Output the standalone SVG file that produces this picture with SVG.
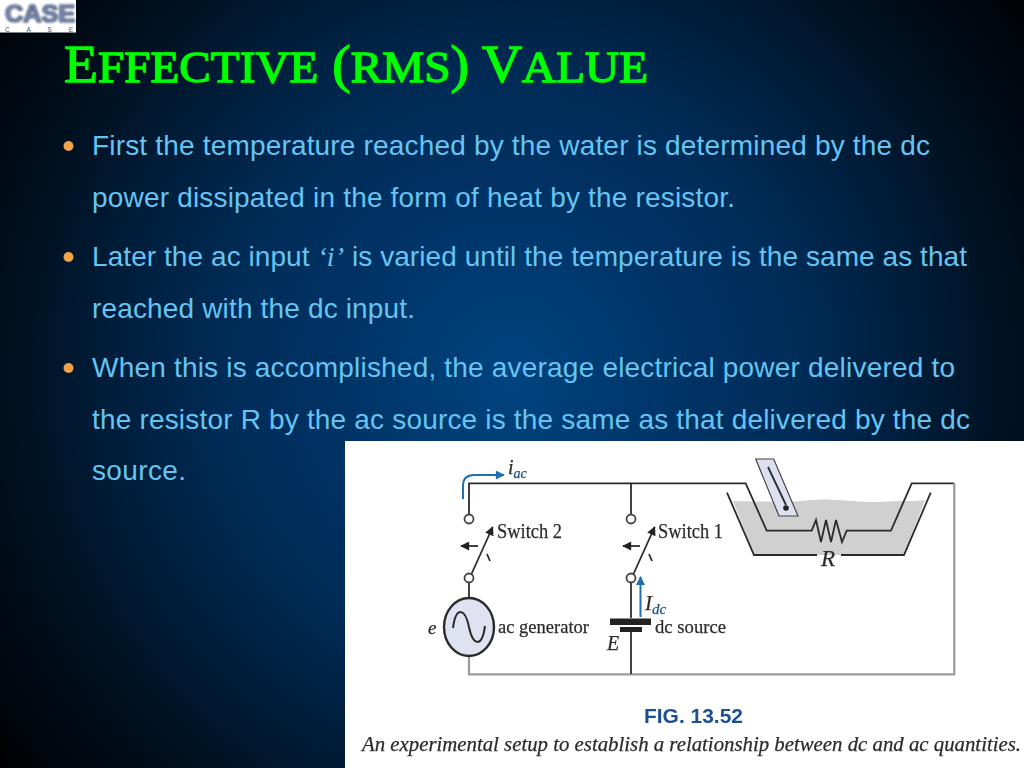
<svg xmlns="http://www.w3.org/2000/svg" width="1024" height="768" viewBox="0 0 1024 768">
<style>
.body{font-family:"Liberation Sans",Arial,sans-serif;font-size:28px;fill:#66c4f2}
.ser{font-family:"Liberation Serif","Times New Roman",serif;fill:#2c2c2c;stroke:#2c2c2c;stroke-width:0.25}
.it{font-style:italic}
.w{fill:none;stroke:#2c2c2c;stroke-width:1.800}
.g{fill:none;stroke:#9a9a9a;stroke-width:2.200}
.c{fill:#fff;stroke:#444;stroke-width:1.800}
.b{fill:#f2a348}
.sc{font-size:45px;text-transform:uppercase}
</style>
<defs>
<radialGradient id="bg" gradientUnits="userSpaceOnUse" cx="512" cy="375" r="640">
<stop offset="0" stop-color="#004480"/>
<stop offset="0.3" stop-color="#003263"/>
<stop offset="0.45" stop-color="#002c58"/>
<stop offset="0.67" stop-color="#001a33"/>
<stop offset="0.84" stop-color="#000c18"/>
<stop offset="0.97" stop-color="#000408"/>
<stop offset="1" stop-color="#000"/>
</radialGradient>
<filter id="soft" x="-5%" y="-5%" width="110%" height="110%"><feGaussianBlur stdDeviation="0.45"/></filter>
<filter id="soft2" x="-5%" y="-5%" width="110%" height="110%"><feGaussianBlur stdDeviation="0.8"/></filter>
<marker id="ah" viewBox="0 0 10 10" refX="9" refY="5" markerWidth="12" markerHeight="9" markerUnits="userSpaceOnUse" orient="auto"><path d="M0 0L10 5L0 10z" fill="#222"/></marker>
<marker id="bh" viewBox="0 0 10 10" refX="9" refY="5" markerWidth="12" markerHeight="9" markerUnits="userSpaceOnUse" orient="auto"><path d="M0 0L10 5L0 10z" fill="#1c6fb4"/></marker>
</defs>
<rect width="1024" height="768" fill="url(#bg)"/>
<g id="logo">
<rect width="76" height="32.500" fill="#fff"/>
<g filter="url(#soft2)">
<text x="5" y="22" font-family="'Liberation Sans',sans-serif" font-weight="bold" font-size="24" textLength="70" lengthAdjust="spacingAndGlyphs" fill="#8296c4" stroke="#2e3a56" stroke-width="1.200">CASE</text>
</g>
<text x="5" y="31.500" font-family="'Liberation Sans',sans-serif" font-size="6.500" textLength="68" fill="#555">CASE</text>
</g>
<text id="title" x="64" y="82" font-family="'Liberation Serif',serif" font-size="53" textLength="584" lengthAdjust="spacingAndGlyphs" fill="#00ff00" stroke="#00ff00" stroke-width="1.300">E<tspan class="sc">ffective</tspan> (<tspan class="sc">rms</tspan>) V<tspan class="sc">alue</tspan></text>
<g id="bullets">
<circle class="b" cx="68.500" cy="146" r="5"/>
<circle class="b" cx="68.500" cy="257" r="5"/>
<circle class="b" cx="68.500" cy="368" r="5"/>
</g>
<g id="bodytext">
<text class="body" x="92" y="155" textLength="838">First the temperature reached by the water is determined by the dc</text>
<text class="body" x="92" y="207" textLength="643">power dissipated in the form of heat by the resistor.</text>
<text class="body" x="92" y="266" textLength="875">Later the ac input <tspan font-family="'Liberation Serif',serif" font-style="italic">‘i’</tspan> is varied until the temperature is the same as that</text>
<text class="body" x="92" y="318" textLength="323">reached with the dc input.</text>
<text class="body" x="92" y="377" textLength="863">When this is accomplished, the average electrical power delivered to</text>
<text class="body" x="92" y="429" textLength="878">the resistor R by the ac source is the same as that delivered by the dc</text>
<text class="body" x="92" y="480" textLength="94">source.</text>
</g>
<rect id="figure-bg" x="345" y="441" width="679" height="327" fill="#fff"/>
<g id="figure" filter="url(#soft)">
<g id="tank">
<path d="M733 501C780 502 800 502 810 500C830 498 850 502 880 502C900 500 912 502 925 500L904 555H754Z" fill="#d0d0d0"/>
<path d="M727 492.700L754 555H817M841 555H904L930.700 492.700" class="w" stroke-width="2"/>
</g>
<g id="connectors">
<path class="w" d="M469 514V483.300H745.700L766.700 530.700H811.700L816 520L821 542L826 520L831 542L836 520L842 542L846.700 530.700H891L911.700 483.300H954.300"/>
<path class="g" d="M954.300 483.300V674.300H469V656"/>
<path class="w" d="M631 483.300V515M631 583V618M631 632V674"/>
<path class="w" d="M469 583V598"/>
<path class="w" d="M471 575L492.700 527" marker-end="url(#ah)"/>
<path class="w" d="M633 575L654.700 527" marker-end="url(#ah)"/>
<path class="w" d="M478 546H461" marker-end="url(#ah)"/>
<path class="w" d="M640 546H623" marker-end="url(#ah)"/>
<path class="w" d="M487 554L490 561M649 554L652 561"/>
<path d="M463 499V486Q463 475 474 475H504" fill="none" stroke="#1c6fb4" stroke-width="2" marker-end="url(#bh)"/>
<path d="M640.500 617V577" fill="none" stroke="#1c6fb4" stroke-width="2" marker-end="url(#bh)"/>
</g>
<g id="contacts">
<circle class="c" cx="469" cy="519" r="4.500"/>
<circle class="c" cx="469" cy="578" r="4.500"/>
<circle class="c" cx="631" cy="519" r="4.500"/>
<circle class="c" cx="631" cy="578" r="4.500"/>
</g>
<g id="generator">
<ellipse cx="469" cy="627" rx="25" ry="29" fill="#dfe3f1" stroke="#2c2c2c" stroke-width="2.400"/>
<path d="M453 628C456 606 465 608 469 627C473 646 482 648 485 626" fill="none" stroke="#2c2c2c" stroke-width="2"/>
</g>
<g id="battery" fill="#222">
<rect x="610" y="618.500" width="41" height="6.500"/>
<rect x="620" y="627" width="22" height="5"/>
</g>
<g id="thermometer">
<path d="M755.700 459H773.700L798 516H779Z" fill="#dde0ef" stroke="#444" stroke-width="1.200"/>
<path d="M768 467L786 505" class="w"/>
<circle cx="786" cy="508" r="2.800" fill="#222"/>
</g>
<g id="labels">
<text class="ser it" x="508" y="474" font-size="20">i<tspan font-size="14" dy="4" fill="#1c4f84" stroke="#1c4f84">ac</tspan></text>
<text class="ser" x="497" y="538" font-size="20" textLength="65" lengthAdjust="spacingAndGlyphs">Switch 2</text>
<text class="ser" x="658" y="538" font-size="20" textLength="65" lengthAdjust="spacingAndGlyphs">Switch 1</text>
<text class="ser it" x="428" y="634" font-size="19">e</text>
<text class="ser" x="498" y="633" font-size="19" textLength="91" lengthAdjust="spacingAndGlyphs">ac generator</text>
<text class="ser" x="655" y="633" font-size="19" textLength="71" lengthAdjust="spacingAndGlyphs">dc source</text>
<text class="ser it" x="645" y="610" font-size="21">I<tspan font-size="15" dy="4" fill="#1c4f84" stroke="#1c4f84">dc</tspan></text>
<text class="ser it" x="607" y="650" font-size="20">E</text>
<text class="ser it" x="821" y="566" font-size="23">R</text>
<text x="644" y="723" font-family="'Liberation Sans',sans-serif" font-weight="bold" font-size="20" fill="#1f4f92" textLength="99" lengthAdjust="spacingAndGlyphs">FIG. 13.52</text>
<text class="ser it" x="362" y="751" font-size="20" textLength="659" lengthAdjust="spacingAndGlyphs">An experimental setup to establish a relationship between dc and ac quantities.</text>
</g>
</g>
</svg>
